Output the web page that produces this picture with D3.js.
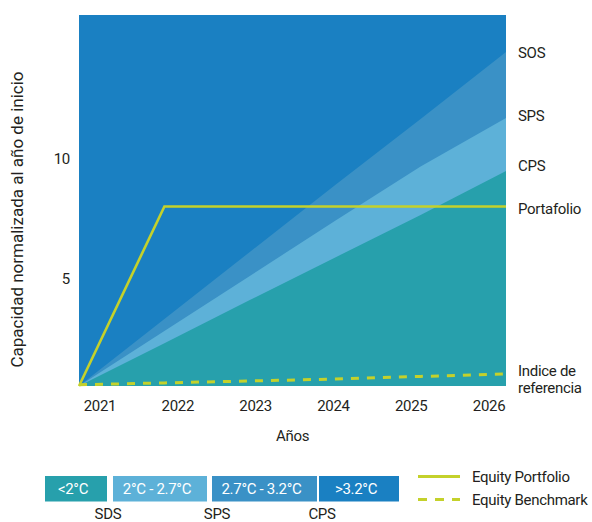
<!DOCTYPE html>
<html>
<head>
<meta charset="utf-8">
<script src="https://cdn.jsdelivr.net/npm/d3@7"></script>
<style>
  body { margin: 0; background: #fff; }
  text { font-family: Roboto, "Noto Sans", sans-serif; fill: #231f20; }
</style>
</head>
<body>
<div id="main-container"></div>
<script>
// DATA
const years = [2021, 2022, 2023, 2024, 2025, 2026];
const sos = [0.5, 3.3, 6.1, 8.9, 11.65, 14.45];
const sps = [0.5, 2.8, 5.1, 7.4, 9.67, 11.7];
const cps = [0.5, 2.29, 4.09, 5.87, 7.64, 9.48];
const portfolio = [0.5, 8, 8, 8, 8, 8];
const benchmark = [0.55, 0.63, 0.71, 0.79, 0.9, 1.0];
const yTicks = [5, 10];
const bandLabels = ["<2°C", "2°C - 2.7°C", "2.7°C - 3.2°C", ">3.2°C"];
const scenarioLabels = ["SDS", "SPS", "CPS"];
const lineLabels = ["Equity Portfolio", "Equity Benchmark"];

// CONSTANTS
const width = 592, height = 522;
const plot = {left: 79, right: 506, top: 15, bottom: 386};
const colours = {
    dark: "#1a80c2",
    mid: "#3a91c6",
    light: "#5db1d8",
    teal: "#27a0ac",
    line: "#c4d12b"
};
const font = {size: "15px", spacing: "-0.3px"};

let svg = d3.select("#main-container")
    .append("svg")
        .attr("width", width)
        .attr("height", height);

let x = d3.scaleLinear()
    .domain(d3.extent(years))
    .range([plot.left, plot.right]);

// tick labels sit on their own, slightly inset grid
let xLabels = d3.scalePoint()
    .domain(years)
    .range([plot.left + 1, plot.right + 2])
    .padding(0.25);

let y = d3.scaleLinear()
    .domain([0.5, 16])
    .range([plot.bottom, plot.top]);

// background = >3.2°C
svg.append("rect")
    .attr("x", x(2021))
    .attr("y", y(16))
    .attr("width", x(2026) - x(2021))
    .attr("height", y(0.5) - y(16))
    .attr("fill", colours.dark);

const area = d3.area()
    .x((d, i) => x(years[i]))
    .y0(y(0.5))
    .y1((d) => y(d));

[[sos, colours.mid], [sps, colours.light], [cps, colours.teal]].forEach(([s, c]) => {
    svg.append("path")
        .datum(s)
        .attr("d", area)
        .attr("fill", c);
});

const line = d3.line()
    .x((d, i) => x(years[i]))
    .y((d) => y(d));

svg.append("path")
    .datum(portfolio)
    .attr("d", line)
    .attr("fill", "none")
    .attr("stroke", colours.line)
    .attr("stroke-width", 2.6);

svg.append("path")
    .datum(benchmark)
    .attr("d", line)
    .attr("fill", "none")
    .attr("stroke", colours.line)
    .attr("stroke-width", 3)
    .attr("stroke-dasharray", "8,8");

// AXES
let xAxis = svg.append("g")
    .attr("transform", `translate(0, ${plot.bottom})`)
    .call(d3.axisBottom(xLabels).tickSize(0).tickPadding(14));
xAxis.select(".domain").remove();

let yAxis = svg.append("g")
    .attr("transform", `translate(${plot.left}, 0)`)
    .call(d3.axisLeft(y).tickValues(yTicks).tickSize(0).tickPadding(9));
yAxis.select(".domain").remove();

svg.selectAll(".tick text")
    .attr("fill", "#231f20")
    .style("font-family", "Roboto, sans-serif")
    .style("font-size", font.size)
    .style("letter-spacing", font.spacing);

svg.append("text")
    .attr("x", (plot.left + plot.right) / 2)
    .attr("y", 441)
    .attr("text-anchor", "middle")
    .style("font-size", font.size)
    .style("letter-spacing", font.spacing)
    .text("Años");

svg.append("text")
    .attr("transform", `translate(23, ${(plot.top + plot.bottom) / 2 + 19})rotate(-90)`)
    .attr("text-anchor", "middle")
    .style("font-size", "17px")
    .text("Capacidad normalizada al año de inicio");

// END LABELS
const ends = [
    {text: ["SOS"], v: sos[5], dy: 6},
    {text: ["SPS"], v: sps[5], dy: 3},
    {text: ["CPS"], v: cps[5], dy: 0},
    {text: ["Portafolio"], v: portfolio[5], dy: 8},
    {text: ["Indice de", "referencia"], v: benchmark[5], dy: 1.5}
];
ends.forEach((e) => {
    e.text.forEach((s, i) => {
        svg.append("text")
            .attr("x", plot.right + 12)
            .attr("y", y(e.v) + e.dy + i * 17)
            .style("font-size", font.size)
            .style("letter-spacing", font.spacing)
            .text(s);
    });
});

// LEGEND
const boxX = [45, 113, 212, 319], boxEnd = [107, 207, 317, 399];
const subX = [108, 217, 322];
const boxColours = [colours.teal, colours.light, colours.mid, colours.dark];
let legend = svg.append("g");
bandLabels.forEach((label, i) => {
    legend.append("rect")
        .attr("x", boxX[i])
        .attr("y", 476)
        .attr("width", boxEnd[i] - boxX[i])
        .attr("height", 25.5)
        .attr("fill", boxColours[i]);
    legend.append("text")
        .attr("x", (boxX[i] + boxEnd[i]) / 2 - 3)
        .attr("y", 493.5)
        .attr("text-anchor", "middle")
        .style("fill", "#fff")
        .style("font-size", font.size)
        .style("letter-spacing", font.spacing)
        .text(label);
});
scenarioLabels.forEach((label, i) => {
    legend.append("text")
        .attr("x", subX[i])
        .attr("y", 519)
        .attr("text-anchor", "middle")
        .style("font-size", font.size)
        .style("letter-spacing", font.spacing)
        .text(label);
});

lineLabels.forEach((label, i) => {
    let ly = 476.5 + i * 23;
    legend.append("line")
        .attr("x1", 418).attr("x2", 460)
        .attr("y1", ly).attr("y2", ly)
        .attr("stroke", colours.line)
        .attr("stroke-width", 3)
        .attr("stroke-dasharray", i === 1 ? "9,8" : null);
    legend.append("text")
        .attr("x", 472)
        .attr("y", ly + 5)
        .style("font-size", font.size)
        .style("letter-spacing", font.spacing)
        .text(label);
});
</script>
</body>
</html>
